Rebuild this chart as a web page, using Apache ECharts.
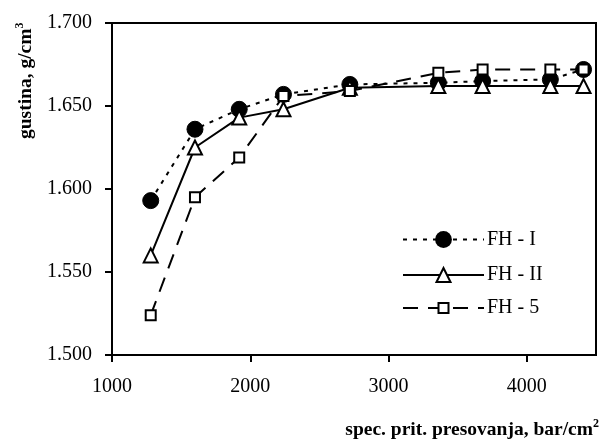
<!DOCTYPE html>
<html><head><meta charset="utf-8">
<script src="https://cdn.jsdelivr.net/npm/echarts@6/dist/echarts.min.js"></script>
<style>html,body{margin:0;padding:0;background:#fff}#c{width:605px;height:447px}</style>
</head><body><div id="c"></div>
<script>
var pressure = [1280, 1600, 1920, 2240, 2720, 3360, 3680, 4170, 4410];
var fh1 = [1.593, 1.636, 1.648, 1.657, 1.663, 1.664, 1.665, 1.666, 1.672];
var fh2 = [1.560, 1.625, 1.643, 1.648, 1.661, 1.662, 1.662, 1.662, 1.662];
var fh5 = [1.524, 1.595, 1.619, 1.656, 1.659, 1.670, 1.672, 1.672, 1.672];
var xTicks = [1000, 2000, 3000, 4000];
var seriesNames = ['FH - I', 'FH - II', 'FH - 5'];
var yTitle = 'gustina, g/cm';
var xTitle = 'spec. prit. presovanja, bar/cm';

function pairs(v){ return pressure.map(function(x,i){ return [x, v[i]]; }); }
var font = '"Liberation Serif","Times New Roman",serif';
function legendFor(name, top, h){
  return {orient: 'vertical', left: 402, top: top, padding: 0,
    itemWidth: 81, itemHeight: h,
    textStyle: {color: '#000', fontFamily: font, fontSize: 20, padding: [0,0,0,-2]},
    data: [name]};
}
var chart = echarts.init(document.getElementById('c'), null, {renderer:'canvas'});
chart.setOption({
  animation: false,
  backgroundColor: '#fff',
  grid: {left: 112, right: 9, top: 23, bottom: 92, show: true, borderColor: '#000', borderWidth: 2, backgroundColor: 'transparent'},
  xAxis: {
    type: 'value', min: 1000, max: 4500, interval: 1000,
    axisLine: {onZero: false, lineStyle: {color: '#000', width: 2}},
    axisTick: {show: true, inside: false, length: 7, lineStyle: {color: '#000', width: 2},
      customValues: xTicks},
    axisLabel: {color: '#000', fontFamily: font, fontSize: 20, margin: 22,
      customValues: xTicks, formatter: function(v){ return String(v); }},
    splitLine: {show: false}
  },
  yAxis: {
    type: 'value', min: 1.5, max: 1.7, interval: 0.05,
    axisLine: {lineStyle: {color: '#000', width: 2}},
    axisTick: {show: true, length: 7, lineStyle: {color: '#000', width: 2}},
    axisLabel: {color: '#000', fontFamily: font, fontSize: 20, margin: 20,
      formatter: function(v){ return v.toFixed(3); }},
    splitLine: {show: false}
  },
  legend: [
    legendFor(seriesNames[0], 229.5, 21),
    legendFor(seriesNames[1], 265, 17.5),
    legendFor(seriesNames[2], 298, 12.5)
  ],
  series: [
    {name: seriesNames[0], type: 'line', data: pairs(fh1), symbol: 'circle', symbolSize: 16,
     itemStyle: {color: '#000', borderColor: '#000'},
     lineStyle: {color: '#000', width: 2, type: [4, 6]}, z: 3},
    {name: seriesNames[1], type: 'line', data: pairs(fh2), symbol: 'triangle', symbolSize: 14,
     itemStyle: {color: '#fff', borderColor: '#000', borderWidth: 2},
     lineStyle: {color: '#000', width: 2, type: 'solid'}, z: 4},
    {name: seriesNames[2], type: 'line', data: pairs(fh5), symbol: 'rect', symbolSize: 10,
     itemStyle: {color: '#fff', borderColor: '#000', borderWidth: 2},
     lineStyle: {color: '#000', width: 2, type: [15, 10]}, z: 5}
  ],
  graphic: [
    {type: 'text', x: 14, y: 139, rotation: Math.PI/2,
     style: {text: '{b|' + yTitle + '}{s|3}', fill: '#000',
       rich: {b: {fontFamily: font, fontWeight: 'bold', fontSize: 19.5, fill:'#000'},
              s: {fontFamily: font, fontWeight: 'bold', fontSize: 12, fill:'#000', padding: [0,0,12,0]}}}},
    {type: 'text', right: 6, top: 418,
     style: {text: '{b|' + xTitle + '}{s|2}', fill: '#000',
       rich: {b: {fontFamily: font, fontWeight: 'bold', fontSize: 19.5, fill:'#000'},
              s: {fontFamily: font, fontWeight: 'bold', fontSize: 12, fill:'#000', padding: [0,0,12,0]}}}}
  ]
});
</script></body></html>
